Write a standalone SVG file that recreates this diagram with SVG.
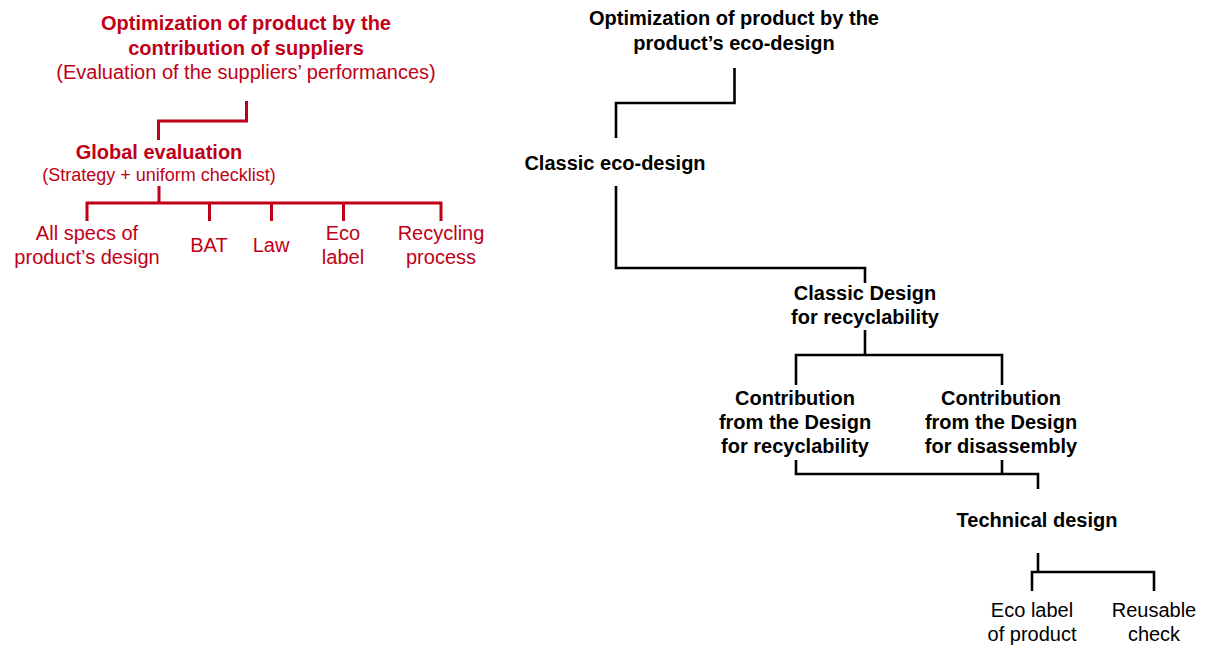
<svg xmlns="http://www.w3.org/2000/svg" width="1205" height="646" viewBox="0 0 1205 646">
<style>
text{font-family:"Liberation Sans",Arial,sans-serif;font-size:20px;text-anchor:middle}
.r{fill:#C00018}
.k{fill:#000}
.b{font-weight:bold}
.s18{font-size:18px}
.cr{fill:none;stroke:#C00018;stroke-width:3}
.ck{fill:none;stroke:#000;stroke-width:2.6}
</style>
<rect width="1205" height="646" fill="#fff"/>
<g id="connectors">
<path class="cr" d="M246.5 101V121H158.5V140"/>
<path class="cr" d="M159 186V203M87 221V203H441V221M209.5 203V221M271.5 203V221M343.5 203V221"/>
<path class="ck" d="M734.5 68V103H616V138"/>
<path class="ck" d="M616 186V268H865V283"/>
<path class="ck" d="M865 330V355M796 385V355H1002V385"/>
<path class="ck" d="M796 460V474H1038V489M1002 460V474"/>
<path class="ck" d="M1038 553V572M1032 591V572H1154V591"/>
</g>
<g id="n-suppliers">
<text class="r b" x="246" y="30">Optimization of product by the</text>
<text class="r b" x="246" y="55">contribution of suppliers</text>
<text class="r" x="246" y="79">(Evaluation of the suppliers’ performances)</text>
</g>
<g id="n-global">
<text class="r b" x="159" y="159">Global evaluation</text>
<text class="r s18" x="159" y="181">(Strategy + uniform checklist)</text>
</g>
<g id="n-allspecs">
<text class="r" x="87" y="240">All specs of</text>
<text class="r" x="87" y="264">product’s design</text>
</g>
<g id="n-bat"><text class="r" x="209" y="252">BAT</text></g>
<g id="n-law"><text class="r" x="271" y="252">Law</text></g>
<g id="n-ecolabel">
<text class="r" x="343" y="240">Eco</text>
<text class="r" x="343" y="264">label</text>
</g>
<g id="n-recycling">
<text class="r" x="441" y="240">Recycling</text>
<text class="r" x="441" y="264">process</text>
</g>
<g id="n-ecodesign-root">
<text class="k b" x="734" y="25">Optimization of product by the</text>
<text class="k b" x="734" y="50">product’s eco-design</text>
</g>
<g id="n-classic">
<text class="k b" x="615" y="170">Classic eco-design</text>
</g>
<g id="n-classic-dfr">
<text class="k b" x="865" y="300">Classic Design</text>
<text class="k b" x="865" y="324">for recyclability</text>
</g>
<g id="n-contrib-rec">
<text class="k b" x="795" y="405">Contribution</text>
<text class="k b" x="795" y="429">from the Design</text>
<text class="k b" x="795" y="453">for recyclability</text>
</g>
<g id="n-contrib-dis">
<text class="k b" x="1001" y="405">Contribution</text>
<text class="k b" x="1001" y="429">from the Design</text>
<text class="k b" x="1001" y="453">for disassembly</text>
</g>
<g id="n-technical">
<text class="k b" x="1037" y="527">Technical design</text>
</g>
<g id="n-ecolabel-product">
<text class="k" x="1032" y="617">Eco label</text>
<text class="k" x="1032" y="641">of product</text>
</g>
<g id="n-reusable">
<text class="k" x="1154" y="617">Reusable</text>
<text class="k" x="1154" y="641">check</text>
</g>
</svg>
